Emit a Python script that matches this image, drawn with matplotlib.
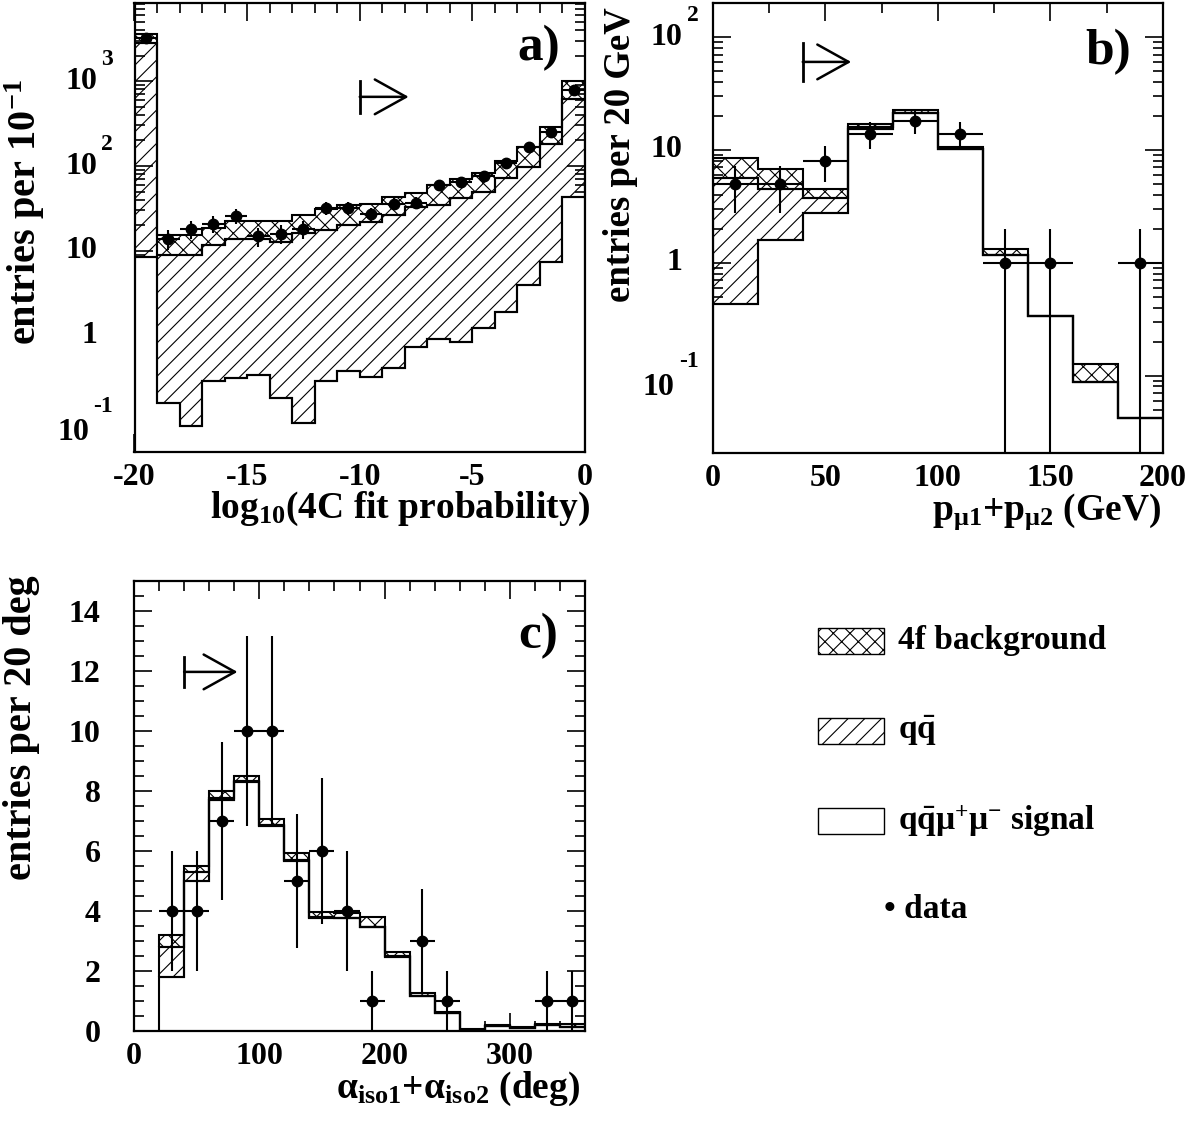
import numpy as np
import matplotlib
matplotlib.use("Agg")
import matplotlib.pyplot as plt
import matplotlib.transforms as mtransforms
from matplotlib.patches import Rectangle, ArrowStyle
from matplotlib.ticker import MultipleLocator, FixedLocator, LogLocator, NullFormatter

plt.rcParams['font.family'] = ['Liberation Serif', 'DejaVu Serif']
plt.rcParams['font.weight'] = 'bold'
plt.rcParams['axes.labelweight'] = 'bold'
plt.rcParams['mathtext.fontset'] = 'custom'
plt.rcParams['mathtext.rm'] = 'Liberation Serif:bold'
plt.rcParams['mathtext.bf'] = 'Liberation Serif:bold'
plt.rcParams['mathtext.it'] = 'Liberation Serif:bold'
plt.rcParams['mathtext.default'] = 'regular'
plt.rcParams['hatch.linewidth'] = 0.8

# --- a) log10(4C fit probability), bins of width 1 from -20 to 0
edges_a = np.arange(-20, 1, 1)
sig_a = [8.6, 0.164, 0.086, 0.296, 0.323, 0.348, 0.188, 0.094, 0.296, 0.391,
         0.33, 0.417, 0.749, 0.914, 0.857, 1.23, 1.93, 3.98, 7.48, 43.5]
qq_a = [2766, 8.7, 8.8, 11.5, 13.5, 13.5, 12.6, 16.4, 17.3, 19.8,
        21.8, 26.1, 32.5, 33.9, 40.8, 48.7, 69.8, 94, 173.5, 565]
ff_a = [766, 6.4, 6.4, 6.7, 8.7, 8.7, 9.7, 10, 13.4, 14.6,
        13.6, 17, 15.3, 25, 28, 33.6, 43.3, 68, 104, 400]
data_a = [3180, 14, 18, 21, 26, 15, 16, 18, 32, 32,
          27, 36, 37, 60, 64, 76, 109, 169, 253, 783]

# --- b) p_mu1 + p_mu2, 20 GeV bins
edges_b = np.arange(0, 201, 20)
sig_b = [0.435, 1.59, 2.78, 15.3, 21.4, 10.3, 1.16, 0.34, 0.087, 0.042]
qq_b = [5.25, 2.94, 0.99, 0.6, 0, 0, 0, 0, 0, 0]
ff_b = [2.86, 2.2, 0.7, 1.0, 1.2, 0.3, 0.17, 0, 0.04, 0]
data_b = [5, 5, 8, 14, 18, 14, 1, 1, 0, 1]

# --- c) alpha_iso1 + alpha_iso2, 20 deg bins from 20 to 360
edges_c = np.arange(20, 361, 20)
sig_c = [1.81, 5.0, 7.7, 8.31, 6.83, 5.68, 3.78, 3.76, 3.46, 2.48,
         1.17, 0.59, 0.05, 0.17, 0.11, 0.19, 0.12]
qq_c = [1.0, 0.31, 0.06, 0.04, 0.03, 0.02, 0.02, 0.02, 0.02, 0.02,
        0.01, 0.01, 0, 0, 0, 0, 0.03]
ff_c = [0.39, 0.19, 0.24, 0.15, 0.22, 0.22, 0.18, 0.14, 0.33, 0.14,
        0.1, 0.04, 0.03, 0.04, 0.02, 0.03, 0.08]
data_c = [4, 4, 7, 10, 10, 5, 6, 4, 1, 0, 3, 1, 0, 0, 0, 1, 1]

cuts = {'a': -10, 'b': 40, 'c': 40}

W, H = 1193, 1124
fig = plt.figure(figsize=(W / 100, H / 100), dpi=100)

def px_axes(l, t, r, b):
    return fig.add_axes([l / W, 1 - b / H, (r - l) / W, (b - t) / H])

ax_a = px_axes(134.5, 3, 585, 452)
ax_b = px_axes(712.7, 3, 1163, 452.7)
ax_c = px_axes(134, 581, 585, 1031)

LW = 1.5

def draw_stack(ax, edges, sig, qq, ff, base):
    s = np.asarray(sig, float)
    q = s + np.asarray(qq, float)
    t = q + np.asarray(ff, float)
    ax.stairs(s, edges, baseline=base, fill=True, facecolor='white',
              edgecolor='black', lw=LW, zorder=2)
    ax.stairs(q, edges, baseline=s, fill=True, facecolor='none', hatch='//',
              edgecolor='black', lw=LW, zorder=3)
    ax.stairs(t, edges, baseline=q, fill=True, facecolor='none', hatch='xx',
              edgecolor='black', lw=LW, zorder=4)

def draw_data(ax, edges, data, log):
    n = np.asarray(data, float)
    c = 0.5 * (edges[:-1] + edges[1:])
    hw = 0.5 * (edges[1] - edges[0])
    m = n > 0
    err = np.sqrt(n)
    lo = err.copy()
    if log:
        lo = np.where(n - err <= 0, n * 0.99999, err)
    ax.errorbar(c[m], n[m], xerr=hw, yerr=[lo[m], err[m]], fmt='o', color='black',
                ms=7.5, elinewidth=1.5, capsize=0, zorder=6)

def cut_arrow(ax, x0, length, yfrac, half):
    tr = mtransforms.blended_transform_factory(ax.transData, ax.transAxes)
    ax.plot([x0, x0], [yfrac - half, yfrac + half], color='black', lw=2,
            transform=tr, zorder=7)
    ax.annotate('', xy=(x0 + length, yfrac), xycoords=tr, xytext=(x0, yfrac),
                textcoords=tr,
                arrowprops=dict(arrowstyle=ArrowStyle('->', head_length=0.9, head_width=0.5),
                                mutation_scale=25, lw=1.8, color='black',
                                shrinkA=0, shrinkB=0))

def style(ax):
    for sp in ax.spines.values():
        sp.set_linewidth(1.6)
    ax.tick_params(which='both', direction='in', top=True, right=True, width=1.2)
    ax.tick_params(which='major', length=13, labelsize=23, pad=8)
    ax.tick_params(which='minor', length=7)

def log_labels(ax, ticks, gap):
    for v in ticks:
        e = int(round(np.log10(v)))
        base = '1' if e == 0 else '10'
        dx, dy = -gap, 0
        if e < 0:
            dx, dy = -gap - 8, -12
        tr = mtransforms.offset_copy(ax.get_yaxis_transform(), fig=fig, x=dx, y=dy, units='dots')
        ax.text(0, v, base, transform=tr, ha='right', va='center', fontsize=23)
        if e >= 2 or e < 0:
            tr2 = mtransforms.offset_copy(ax.get_yaxis_transform(), fig=fig,
                                          x=dx + 4, y=dy + 26 if e < 0 else 22, units='dots')
            ax.text(0, v, str(e), transform=tr2, ha='left', va='center', fontsize=17)

# ---- panel a
draw_stack(ax_a, edges_a, sig_a, qq_a, ff_a, 1e-4)
draw_data(ax_a, edges_a, data_a, True)
ax_a.set_yscale('log')
ax_a.set_xlim(-20, 0)
ax_a.set_ylim(0.043, 8300)
style(ax_a)
ax_a.xaxis.set_minor_locator(MultipleLocator(1))
ax_a.set_xticks([-20, -15, -10, -5, 0], ['-20', '-15', '-10', '-5', '0'])
ax_a.yaxis.set_major_locator(FixedLocator([0.1, 1, 10, 100, 1000]))
ax_a.yaxis.set_minor_locator(LogLocator(base=10, subs=np.arange(2, 10)))
ax_a.yaxis.set_major_formatter(NullFormatter())
ax_a.yaxis.set_minor_formatter(NullFormatter())
log_labels(ax_a, [0.1, 1, 10, 100, 1000], 37)
cut_arrow(ax_a, cuts['a'], 2.17, 0.791, 0.036)
ax_a.text(0.944, 0.873, 'a)', transform=ax_a.transAxes, ha='right', va='baseline', fontsize=37)
ax_a.set_xlabel('log$_{10}$(4C fit probability)', fontsize=27, fontweight='bold', loc='right')
ax_a.xaxis.set_label_coords(1.01, -0.085)

# ---- panel b
draw_stack(ax_b, edges_b, sig_b, qq_b, ff_b, 1e-4)
draw_data(ax_b, edges_b, data_b, True)
ax_b.set_yscale('log')
ax_b.set_xlim(0, 200)
ax_b.set_ylim(0.0207, 201)
style(ax_b)
ax_b.xaxis.set_major_locator(MultipleLocator(50))
ax_b.xaxis.set_minor_locator(MultipleLocator(25))
ax_b.yaxis.set_major_locator(FixedLocator([0.1, 1, 10, 100]))
ax_b.yaxis.set_minor_locator(LogLocator(base=10, subs=np.arange(2, 10)))
ax_b.yaxis.set_major_formatter(NullFormatter())
ax_b.yaxis.set_minor_formatter(NullFormatter())
log_labels(ax_b, [0.1, 1, 10, 100], 30)
cut_arrow(ax_b, cuts['b'], 21.5, 0.869, 0.042)
ax_b.text(0.93, 0.863, 'b)', transform=ax_b.transAxes, ha='right', va='baseline', fontsize=37)
ax_b.set_xlabel('p$_{μ1}$+p$_{μ2}$ (GeV)', fontsize=27, fontweight='bold', loc='right')
ax_b.xaxis.set_label_coords(0.995, -0.085)

# ---- panel c
draw_stack(ax_c, edges_c, sig_c, qq_c, ff_c, 0)
draw_data(ax_c, edges_c, data_c, False)
ax_c.set_xlim(0, 360)
ax_c.set_ylim(0, 15)
style(ax_c)
ax_c.tick_params(axis='y', which='major', pad=24)
ax_c.xaxis.set_major_locator(MultipleLocator(100))
ax_c.xaxis.set_minor_locator(MultipleLocator(20))
ax_c.yaxis.set_major_locator(MultipleLocator(2))
ax_c.yaxis.set_minor_locator(MultipleLocator(0.5))
cut_arrow(ax_c, cuts['c'], 42.6, 0.798, 0.033)
ax_c.text(0.94, 0.851, 'c)', transform=ax_c.transAxes, ha='right', va='baseline', fontsize=37)
ax_c.set_xlabel('α$_{iso1}$+α$_{iso2}$ (deg)', fontsize=27, fontweight='bold', loc='right')
ax_c.xaxis.set_label_coords(0.99, -0.087)

# ---- y labels
fig.text(25 / W, 1 - 345 / H, 'entries per 10$^{-1}$', rotation=90, ha='center', va='bottom', fontsize=29)
fig.text(620 / W, 1 - 302 / H, 'entries per 20 GeV', rotation=90, ha='center', va='bottom', fontsize=26.5)
fig.text(22 / W, 1 - 880 / H, 'entries per 20 deg', rotation=90, ha='center', va='bottom', fontsize=29)

# ---- legend
leg_items = [('xx', '4f background', 641), ('//', 'q$\\bar{q}$', 731),
             ('', 'q$\\bar{q}$μ$^{+}$μ$^{-}$ signal', 821)]
for hatch, label, yc in leg_items:
    fig.patches.append(Rectangle((818 / W, 1 - (yc + 13) / H), 66 / W, 26 / H,
                                 transform=fig.transFigure, facecolor='white',
                                 edgecolor='black', lw=1.0, hatch=hatch))
    fig.text(898 / W, 1 - yc / H, label, ha='left', va='center', fontsize=24)
fig.text(884 / W, 1 - 910 / H, '• data', ha='left', va='center', fontsize=24)

fig.savefig('out.png', dpi=100)
